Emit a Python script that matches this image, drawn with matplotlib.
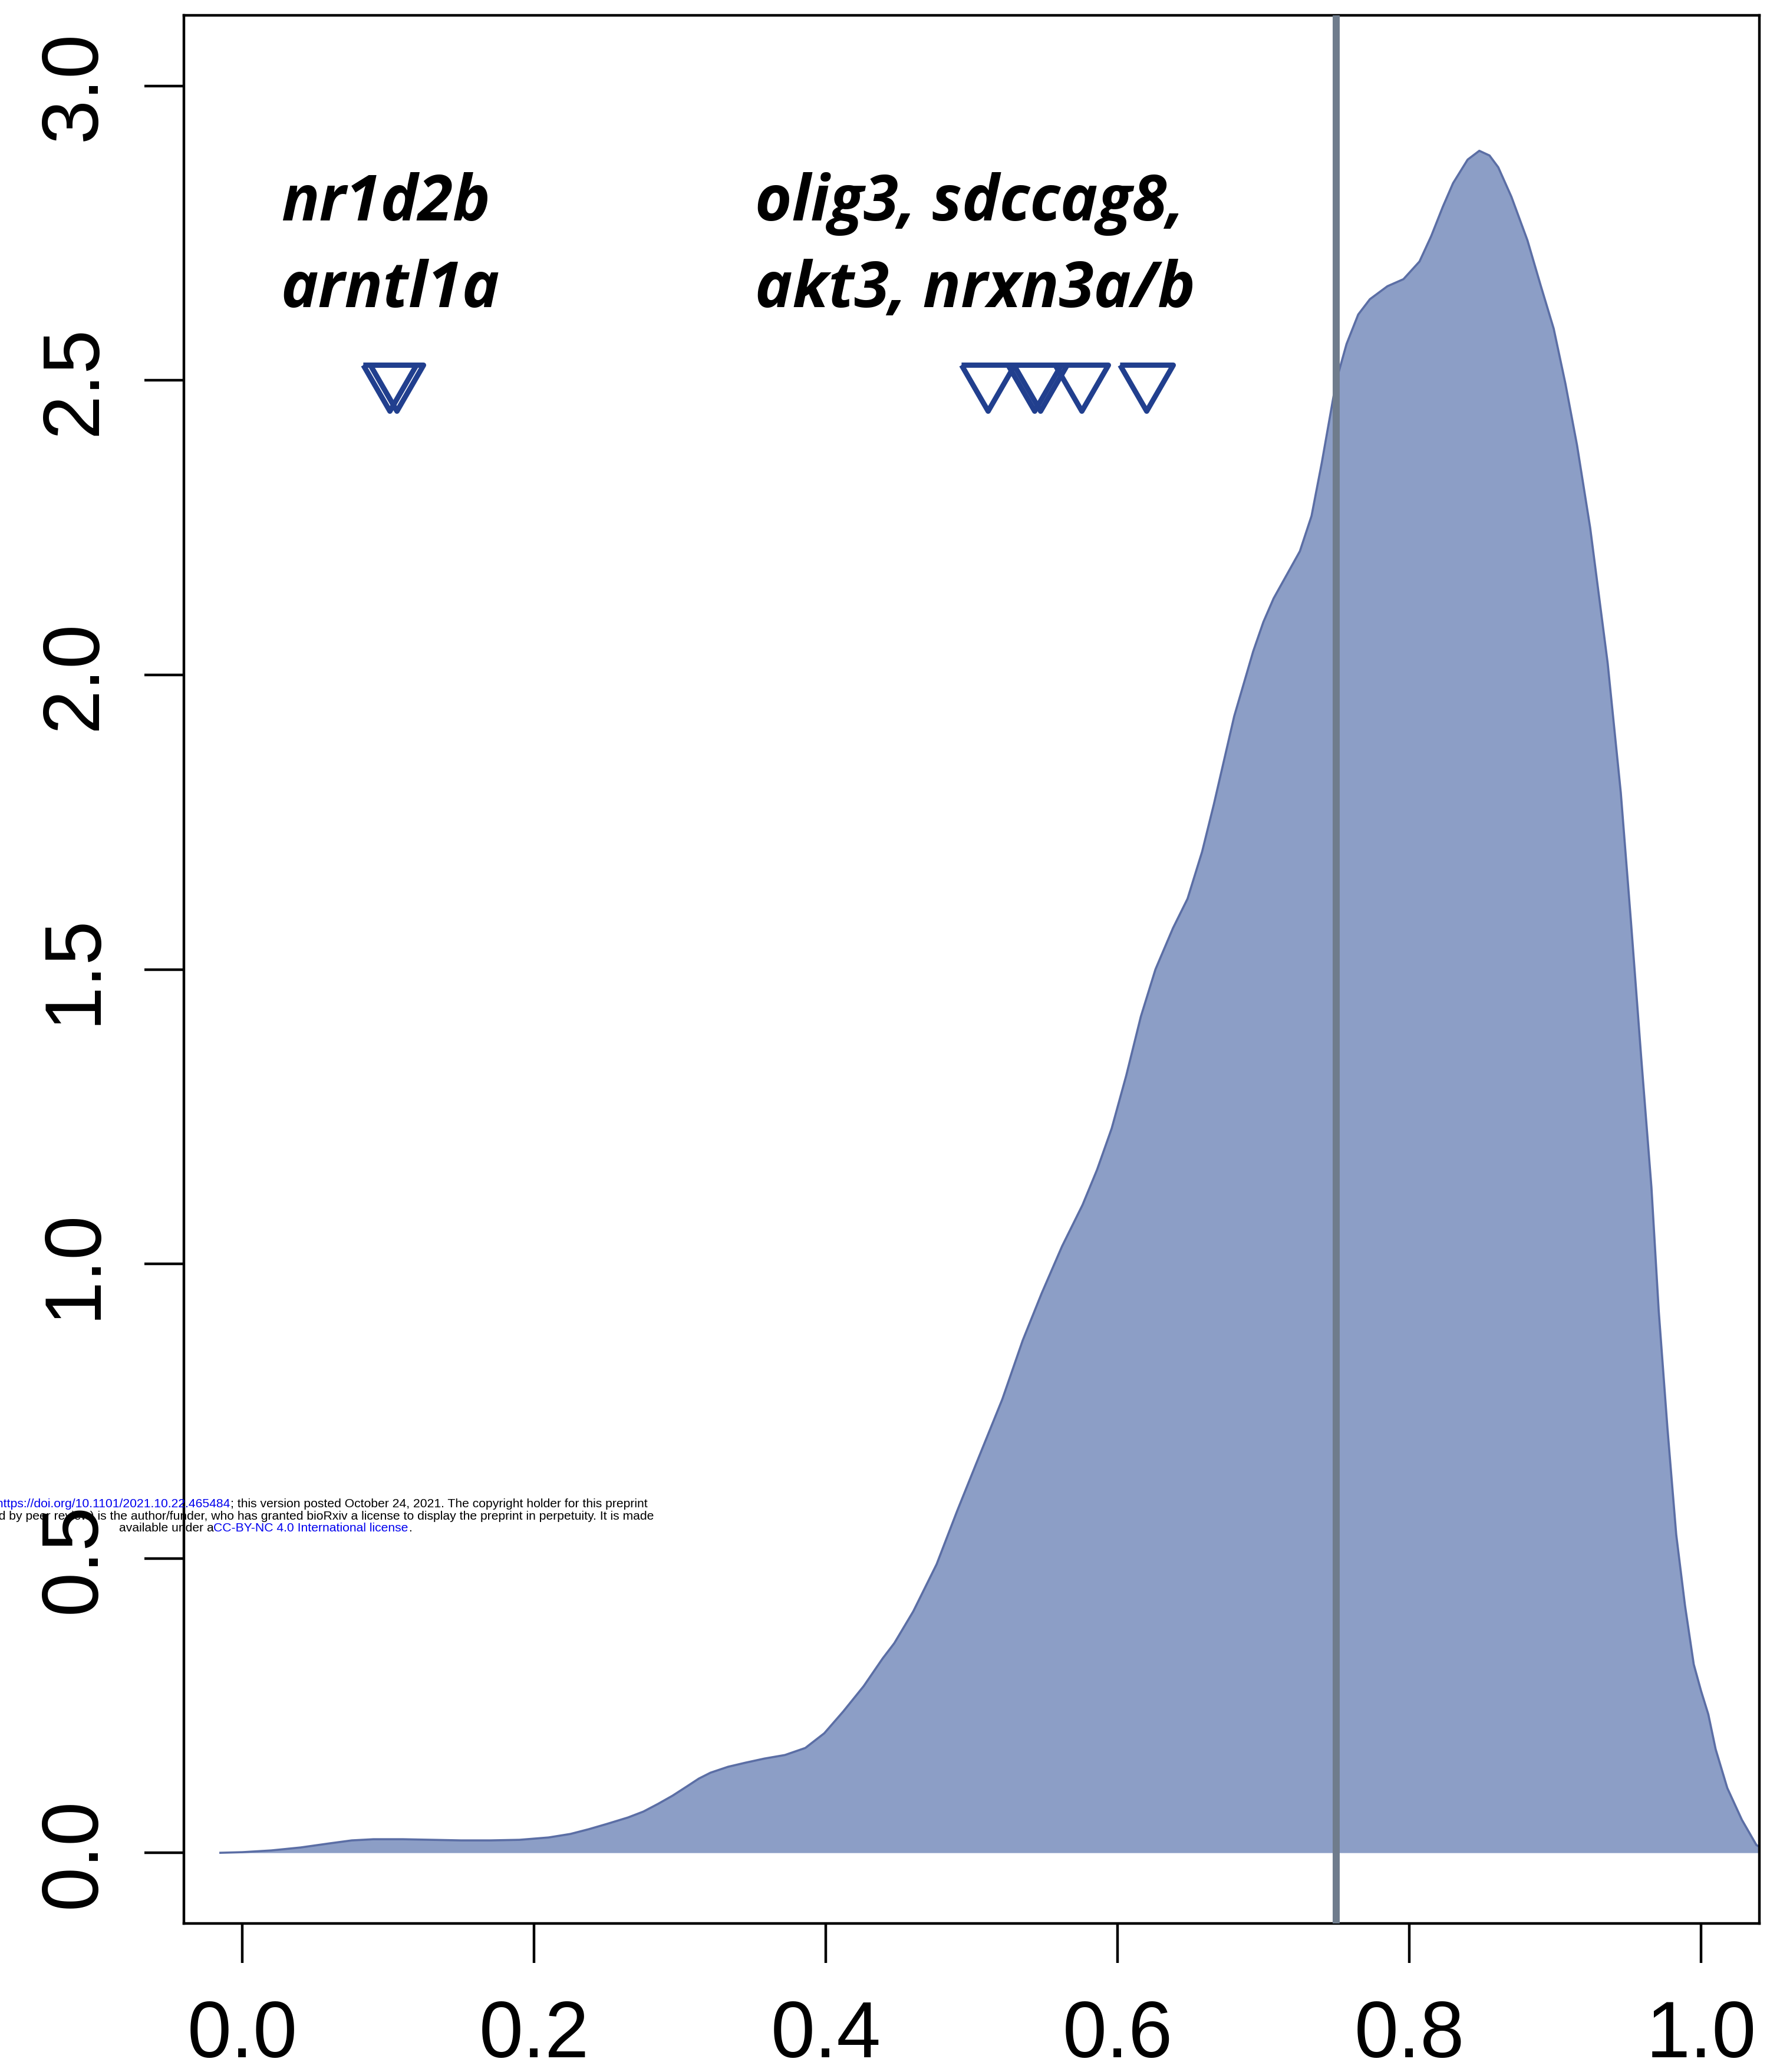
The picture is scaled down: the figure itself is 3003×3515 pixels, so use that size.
import matplotlib
matplotlib.use("Agg")
import matplotlib.pyplot as plt
from matplotlib.font_manager import FontProperties

# Kernel density of per-gene scores (x: score, y: density)
score_x = [-0.015, 0.000, 0.020, 0.040, 0.060, 0.075, 0.090, 0.110, 0.130, 0.150,
           0.170, 0.190, 0.210, 0.225, 0.2375, 0.250, 0.2645, 0.275, 0.285, 0.295,
           0.305, 0.313, 0.321, 0.333, 0.345, 0.358, 0.372, 0.386, 0.399, 0.412,
           0.426, 0.439, 0.447, 0.460, 0.476, 0.490, 0.503, 0.521, 0.535, 0.548,
           0.562, 0.576, 0.586, 0.596, 0.606, 0.616, 0.626, 0.638, 0.648, 0.658,
           0.666, 0.680, 0.693, 0.700, 0.707, 0.716, 0.725, 0.733, 0.740, 0.745,
           0.750, 0.757, 0.765, 0.773, 0.785, 0.796, 0.807, 0.815, 0.823, 0.830,
           0.840, 0.848, 0.855, 0.861, 0.870, 0.881, 0.890, 0.899, 0.907, 0.915,
           0.924, 0.936, 0.945, 0.952, 0.959, 0.966, 0.971, 0.977, 0.983, 0.989,
           0.995, 1.000, 1.005, 1.010, 1.018, 1.028, 1.038, 1.045]
density = [0.000, 0.001, 0.004, 0.009, 0.016, 0.021, 0.023, 0.023, 0.022, 0.021,
           0.021, 0.022, 0.026, 0.032, 0.040, 0.049, 0.060, 0.070, 0.083, 0.097,
           0.113, 0.126, 0.136, 0.146, 0.153, 0.160, 0.166, 0.178, 0.203, 0.240,
           0.283, 0.330, 0.356, 0.410, 0.490, 0.580, 0.660, 0.770, 0.870, 0.950,
           1.030, 1.100, 1.160, 1.230, 1.320, 1.420, 1.500, 1.570, 1.620, 1.700,
           1.780, 1.930, 2.040, 2.090, 2.130, 2.170, 2.210, 2.270, 2.360, 2.430,
           2.500, 2.562, 2.612, 2.638, 2.660, 2.672, 2.702, 2.745, 2.795, 2.835,
           2.875, 2.890, 2.882, 2.862, 2.812, 2.738, 2.662, 2.588, 2.495, 2.390,
           2.250, 2.020, 1.800, 1.580, 1.350, 1.130, 0.920, 0.720, 0.540, 0.420,
           0.320, 0.275, 0.235, 0.176, 0.110, 0.056, 0.013, 0.004]

threshold = 0.75

# Genes marked above the density
genes_left = ["nr1d2b", "arntl1a"]
scores_left = [0.101, 0.106]
genes_right = ["olig3", "sdccag8", "akt3", "nrxn3a", "nrxn3b"]
scores_right = [0.511, 0.543, 0.547, 0.5755, 0.620]
marker_level = 2.5

label_lines_left = ["nr1d2b", "arntl1a"]
label_lines_right = ["olig3, sdccag8,", "akt3, nrxn3a/b"]

x_ticks = [0.0, 0.2, 0.4, 0.6, 0.8, 1.0]
y_ticks = [0.0, 0.5, 1.0, 1.5, 2.0, 2.5, 3.0]

W, H, DPI = 3003, 3515, 100
fig = plt.figure(figsize=(W / DPI, H / DPI), dpi=DPI)
fig.patch.set_facecolor("white")
ax = fig.add_axes([312 / W, 1 - 3263 / H, (2985 - 312) / W, (3263 - 26) / H])
ax.set_xlim(-0.04, 1.04)
ax.set_ylim(-0.12, 3.12)

# density polygon
ax.fill_between(score_x, 0, density, color="#8c9ec6", lw=0, zorder=1)
ax.plot(score_x, density, color="#5b6ea5", lw=2.6, zorder=2,
        solid_joinstyle="round")

# threshold line
ax.axvline(threshold, color="#6f7c8c", lw=8.6, zorder=3)

# open down-pointing equilateral triangles
tri = [(-1.0, 0.5774), (1.0, 0.5774), (0.0, -1.1547), (-1.0, 0.5774)]
for xs in (scores_left, scores_right):
    ax.plot(xs, [marker_level] * len(xs), linestyle="none", marker=tri,
            markersize=75, markerfacecolor="none", markeredgecolor="#213f8e",
            markeredgewidth=6.4, zorder=4)

# gene labels
lab_font = dict(family=["Open Sans", "DejaVu Sans"], weight="bold", style="italic",
                fontsize=77, color="black")
ax.text(0.0265, 2.772, label_lines_left[0], ha="left", va="baseline", **lab_font)
ax.text(0.0265, 2.625, label_lines_left[1], ha="left", va="baseline", **lab_font)
ax.text(0.3515, 2.772, label_lines_right[0], ha="left", va="baseline", **lab_font)
ax.text(0.3515, 2.625, label_lines_right[1], ha="left", va="baseline", **lab_font)

# axes styling
tick_font = FontProperties(family="Liberation Sans", size=97)
ax.set_xticks(x_ticks)
ax.set_xticklabels([f"{v:.1f}" for v in x_ticks], fontproperties=tick_font)
ax.set_yticks(y_ticks)
ax.set_yticklabels([f"{v:.1f}" for v in y_ticks], fontproperties=tick_font,
                   rotation=90, va="center")
ax.tick_params(axis="x", direction="out", length=48, width=3.2, pad=45)
ax.tick_params(axis="y", direction="out", length=48, width=3.2, pad=40)
for sp in ax.spines.values():
    sp.set_linewidth(3.2)
    sp.set_color("black")

# preprint notice
notice = [
    [("bioRxiv preprint doi:", "black"),
     (" https://doi.org/10.1101/2021.10.22.465484", "#0000ee"),
     ("; this version posted October 24, 2021. The copyright holder for this preprint", "black")],
    [("(which was not certified by peer review) is the author/funder, who has granted "
      "bioRxiv a license to display the preprint in perpetuity. It is made", "black")],
    [("available under a", "black"),
     ("CC-BY-NC 4.0 International license", "#0000ee"),
     (".", "black")],
]
notice_baselines = [2557, 2578, 2598]
notice_center = 450

renderer = fig.canvas.get_renderer()
for pieces, base in zip(notice, notice_baselines):
    texts = [fig.text(0, 1 - base / H, s, color=c, fontsize=15.2,
                      family="Liberation Sans", ha="left", va="baseline")
             for s, c in pieces]
    widths = [t.get_window_extent(renderer).width for t in texts]
    x = notice_center - sum(widths) / 2
    for t, w in zip(texts, widths):
        t.set_x(x / W)
        x += w

fig.savefig("out.png", dpi=DPI, facecolor="white")
